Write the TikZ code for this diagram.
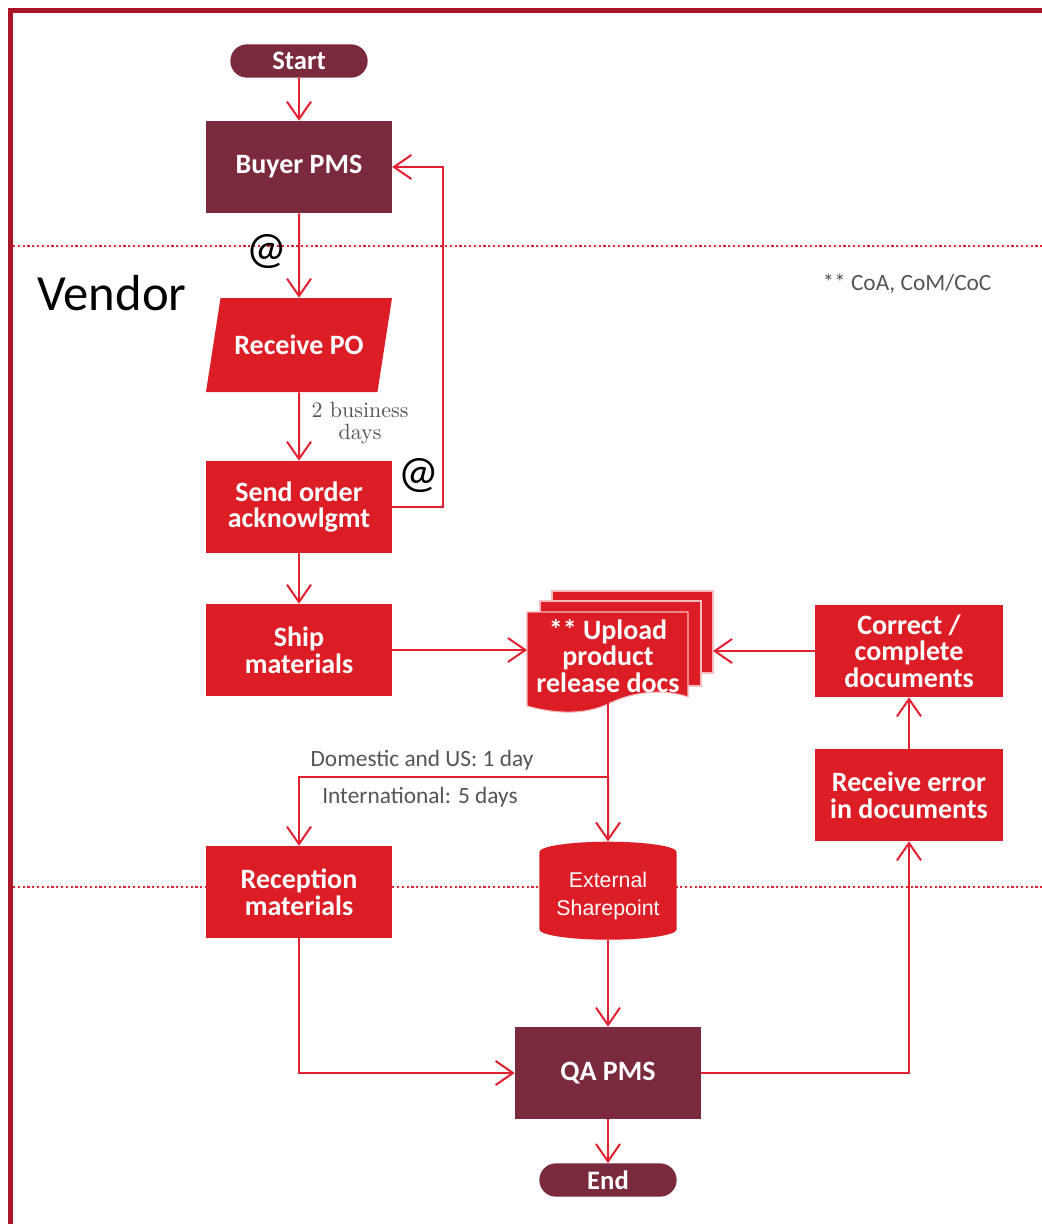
\documentclass[tikz,border=0pt]{standalone}
\usepackage{fontspec}
\setmainfont{Carlito}
\newfontfamily\pfsans{Liberation Sans}
\newfontfamily\pfserif{lmroman10-regular.otf}
\usetikzlibrary{arrows.meta,shapes.geometric}
\definecolor{pfmaroon}{RGB}{122,42,60}
\definecolor{pfred}{RGB}{221,29,37}
\definecolor{pfline}{RGB}{228,32,48}
\definecolor{pfframe}{RGB}{168,22,40}
\definecolor{pfgrey}{RGB}{85,85,85}
\tikzset{
  pfbox/.style={rectangle, fill=pfred, text=white, align=center, inner sep=2pt,
    font=\fontsize{21}{20}\selectfont\bfseries, minimum width=139.5pt, minimum height=69pt},
  pfpms/.style={pfbox, fill=pfmaroon},
  pfterm/.style={pfpms, rounded corners=12.5pt, minimum width=103pt, minimum height=25pt,
    font=\fontsize{20}{18}\selectfont\bfseries},
  pfio/.style={pfbox, trapezium, trapezium left angle=60, trapezium right angle=120,
    trapezium stretches body, minimum width=139.5pt, minimum height=70.5pt},
  pfdb/.style={cylinder, shape border rotate=90, aspect=0.2, fill=pfred, text=white, align=center,
    font=\pfsans\fontsize{16}{21}\selectfont, minimum width=103pt, minimum height=73.5pt, inner sep=0pt},
  pfdoc/.style={text=white, align=center, inner sep=0pt, font=\fontsize{21}{20}\selectfont\bfseries,
    minimum width=121pt, minimum height=67.5pt},
  pfsheet/.style={fill=pfred, draw=white!70!pfred, line width=0.8pt},
  pfnote/.style={text=pfgrey, font=\fontsize{17.5}{19}\selectfont, inner sep=0pt},
  pfdays/.style={text=pfgrey, align=center, font=\pfserif\fontsize{16.5}{16}\selectfont, inner sep=0pt},
  pfat/.style={font=\fontsize{34}{34}\selectfont, inner sep=0pt},
  pflane/.style={font=\fontsize{38}{38}\selectfont, inner sep=0pt},
  pfconn/.style={line width=1.5pt, draw=pfline},
  pfarrow/.style={pfconn, -{Straight Barb[length=13pt,width=18pt]}},
  pfsep/.style={draw=pfline, line width=1.6pt, dash pattern=on 1.6pt off 2pt}
}

\begin{document}
\begin{tikzpicture}[x=0.75pt,y=-0.75pt]
  \useasboundingbox (0,0) rectangle (1042,1224);
  \fill[white] (0,0) rectangle (1042,1224);
  \draw[pfframe, line width=3.75pt] (10,1232) -- (10,10) -- (1050,10);
  \draw[pfsep] (13,246) -- (1042,246);
  \draw[pfsep] (13,887) -- (1042,887);
  \filldraw[pfsheet] (552,591) rectangle (713,673);
  \filldraw[pfsheet] (540,601) rectangle (701,686);
  \filldraw[pfsheet] (527,612) -- (688,612) -- (688,697) .. controls (662,688) and (632,692) .. (608,704)
    .. controls (585,715) and (555,714) .. (527,706) -- cycle;

  \node[pflane] (vendor) at (112,293) {Vendor};
  \node[pfnote] (certs) at (907,284) {** CoA, CoM/CoC};
  \node[pfterm] (start) at (299,61) {Start};
  \node[pfpms] (buyer) at (299,167) {Buyer PMS};
  \node[pfat] (atpo) at (267,252) {@};
  \node[pfio] (recvpo) at (299,345) {Receive PO};
  \node[pfdays] (bizdays) at (360,423) {2 business\\days};
  \node[pfbox] (sendack) at (299,507) {Send order\\acknowlgmt};
  \node[pfat] (atack) at (419,476) {@};
  \coordinate (ackloop) at (443,167);
  \node[pfbox] (ship) at (299,650) {Ship\\materials};
  \node[pfdoc] (upload) at (608,656) {** Upload\\product\\release docs};
  \coordinate (stackedge) at (713,651);
  \node[pfbox, minimum width=141pt] (correct) at (909,651) {Correct /\\complete\\documents};
  \node[pfbox, minimum width=141pt] (recerr) at (909,795) {Receive error\\in documents};
  \coordinate (split) at (608,777);
  \node[pfnote] (domestic) at (422,760) {Domestic and US: 1 day};
  \node[pfnote] (intl) at (420,797) {International: 5 days};
  \node[pfbox] (recmat) at (299,892) {Reception\\materials};
  \node[pfdb] (extsp) at (608,896) {External\\Sharepoint};
  \node[pfpms] (qapms) at (608,1073) {QA PMS};
  \node[pfterm] (finish) at (608,1180) {End};

  \draw[pfarrow] (start) -- (buyer);
  \draw[pfarrow] (buyer) -- (recvpo);
  \draw[pfarrow] (recvpo) -- (sendack);
  \draw[pfarrow] (sendack.east) -| (ackloop) -- (buyer.east);
  \draw[pfarrow] (sendack) -- (ship);
  \draw[pfarrow] (ship.east) -- (ship.east -| upload.west);
  \draw[pfarrow] (correct.west) -- (correct.west -| stackedge);
  \draw[pfconn] (upload.south) -- (split);
  \draw[pfarrow] (split) -- (extsp);
  \draw[pfarrow] (split) -| (recmat);
  \draw[pfarrow] (extsp) -- (qapms);
  \draw[pfarrow] (recmat) |- (qapms);
  \draw[pfarrow] (qapms) -| (recerr);
  \draw[pfarrow] (recerr) -- (correct);
  \draw[pfarrow] (qapms) -- (finish);
\end{tikzpicture}
\end{document}
